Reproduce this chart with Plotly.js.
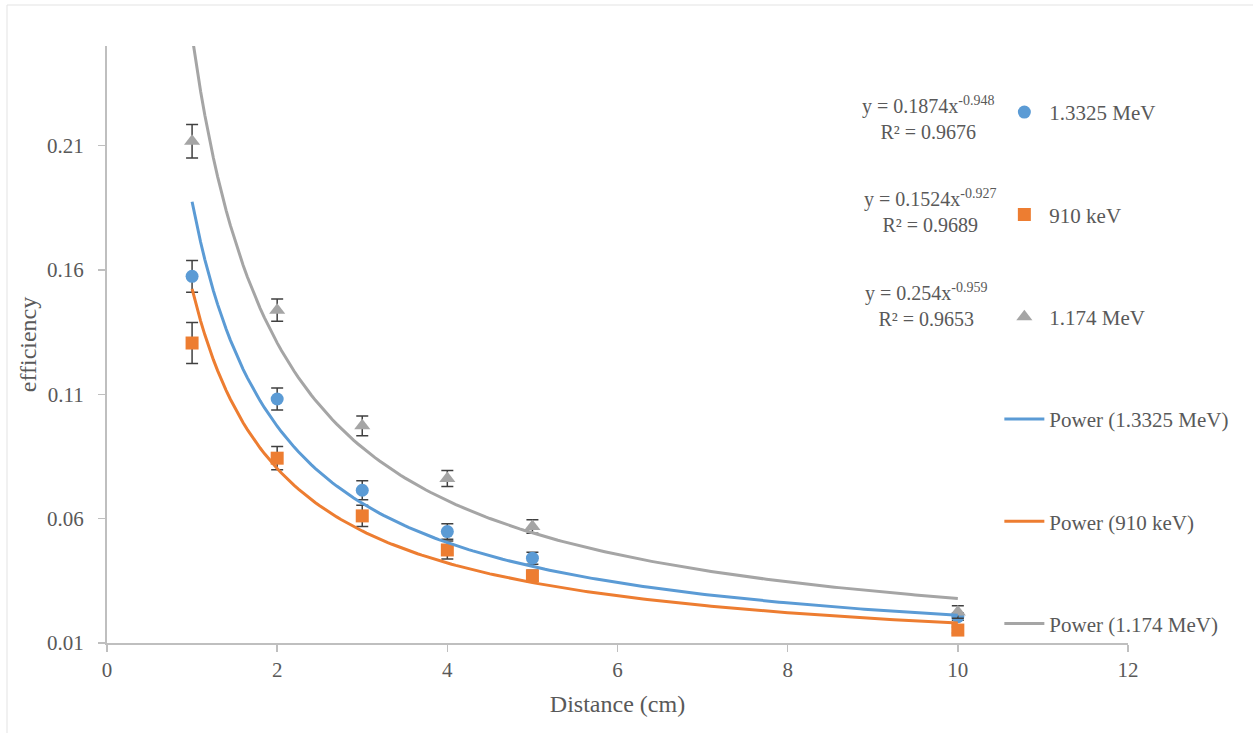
<!DOCTYPE html>
<html>
<head>
<meta charset="utf-8">
<script src="https://cdn.plot.ly/plotly-3.0.1.min.js"></script>
<style>
  html, body { margin: 0; padding: 0; background: #ffffff; }
  #chart { width: 1253px; height: 733px; }
</style>
</head>
<body>
<div id="chart"></div>
<script>
// ---- data ----
const distance = [1, 2, 3, 4, 5, 10];

const eff1332 = [0.1574, 0.1081, 0.0714, 0.0548, 0.0441, 0.0206];
const err1332 = [0.0064, 0.0044, 0.0038, 0.0031, 0.0024, 0.0015];

const eff910 = [0.1306, 0.0843, 0.0611, 0.0474, 0.0370, 0.0152];
const err910 = [0.0082, 0.0047, 0.0043, 0.0036, 0.0022, 0.0012];

const eff1174 = [0.2117, 0.1438, 0.0973, 0.0761, 0.0568, 0.0225];
const err1174 = [0.0067, 0.0045, 0.0040, 0.0032, 0.0027, 0.0025];

const seriesNames = ["1.3325 MeV", "910 keV", "1.174 MeV"];
const trendNames = ["Power (1.3325 MeV)", "Power (910 keV)", "Power (1.174 MeV)"];
// power-trendline coefficients shown on the chart: y = a * x^b
const trendA = [0.1874, 0.1524, 0.254];
const trendB = [-0.948, -0.927, -0.959];
const trendR2 = ["0.9676", "0.9689", "0.9653"];

const xTicks = [0, 2, 4, 6, 8, 10, 12];
const yTicks = [0.01, 0.06, 0.11, 0.16, 0.21];

// ---- styling ----
const colors = ["#5B9BD5", "#ED7D31", "#A5A5A5"];
const symbols = ["circle", "square", "triangle-up"];
const markerSizes = [13, 13, 14];
const FONT = "'Liberation Serif', 'Times New Roman', 'DejaVu Serif', serif";
const TXT = "#595959";

const effs = [eff1332, eff910, eff1174];
const errs = [err1332, err910, err1174];

const traces = [];
for (let i = 0; i < 3; i++) {
  traces.push({
    type: "scatter", mode: "markers",
    x: distance, y: effs[i], name: seriesNames[i], legendgroup: "s" + i,
    marker: { color: colors[i], symbol: symbols[i], size: markerSizes[i] },
    error_y: { type: "data", array: errs[i], visible: true, color: "#404040", thickness: 1.5, width: 6 },
    hoverinfo: "x+y"
  });
}
// trendline curves evaluated from the displayed fit equations over the data range
const xMin = Math.min(...distance), xMax = Math.max(...distance);
const nSamp = 181;
const trendX = [];
for (let k = 0; k < nSamp; k++) trendX.push(xMin + (xMax - xMin) * k / (nSamp - 1));
for (let i = 0; i < 3; i++) {
  traces.push({
    type: "scatter", mode: "lines",
    x: trendX, y: trendX.map(v => trendA[i] * Math.pow(v, trendB[i])),
    name: trendNames[i], legendgroup: "t" + i,
    line: { color: colors[i], width: 3 },
    hoverinfo: "skip"
  });
}

// ---- equation labels ----
const eqPos = [[0.804, 0.879], [0.806, 0.724], [0.802, 0.566]];
const annotations = [];
for (let i = 0; i < 3; i++) {
  annotations.push({
    xref: "paper", yref: "paper", x: eqPos[i][0], y: eqPos[i][1],
    xanchor: "center", yanchor: "middle", align: "center", showarrow: false,
    text: "y = " + trendA[i] + "x<sup>" + trendB[i] + "</sup><br>R² = " + trendR2[i],
    font: { family: FONT, size: 20, color: TXT }
  });
}

const layout = {
  width: 1253, height: 733,
  margin: { l: 107, r: 125, t: 46, b: 90, pad: 0 },
  paper_bgcolor: "#ffffff", plot_bgcolor: "#ffffff",
  font: { family: FONT, color: TXT, size: 21 },
  showlegend: true,
  legend: {
    x: 0.874, xanchor: "left", y: 0.923, yanchor: "top",
    bgcolor: "rgba(0,0,0,0)", borderwidth: 0,
    font: { family: FONT, size: 21, color: TXT },
    tracegroupgap: 72, traceorder: "grouped", itemwidth: 40
  },
  xaxis: {
    range: [0, 12], tickvals: xTicks, ticktext: xTicks.map(String),
    showgrid: false, zeroline: false, showline: true, linecolor: "#BFBFBF", linewidth: 2,
    ticks: "outside", ticklen: 7, tickcolor: "#BFBFBF", tickwidth: 1.5,
    tickfont: { family: FONT, size: 21, color: TXT },
    title: { text: "Distance (cm)", font: { family: FONT, size: 24, color: TXT }, standoff: 14 }
  },
  yaxis: {
    range: [0.01, 0.25], tickvals: yTicks, ticktext: yTicks.map(v => v.toFixed(2)),
    showgrid: false, zeroline: false, showline: true, linecolor: "#BFBFBF", linewidth: 2,
    ticks: "outside", ticklen: 7, tickcolor: "#BFBFBF", tickwidth: 1.5,
    ticklabelstandoff: 10,
    tickfont: { family: FONT, size: 21, color: TXT },
    title: { text: "efficiency", font: { family: FONT, size: 24, color: TXT }, standoff: 4 }
  },
  annotations: annotations,
  shapes: [{
    type: "rect", xref: "paper", yref: "paper",
    x0: (7 - 107) / 1021, x1: (1262 - 107) / 1021,
    y0: (643 - 745) / 597, y1: (643 - 5) / 597,
    line: { color: "#E3E3E3", width: 1 }, layer: "below"
  }]
};

Plotly.newPlot("chart", traces, layout, { displayModeBar: false, staticPlot: true });
</script>
</body>
</html>
